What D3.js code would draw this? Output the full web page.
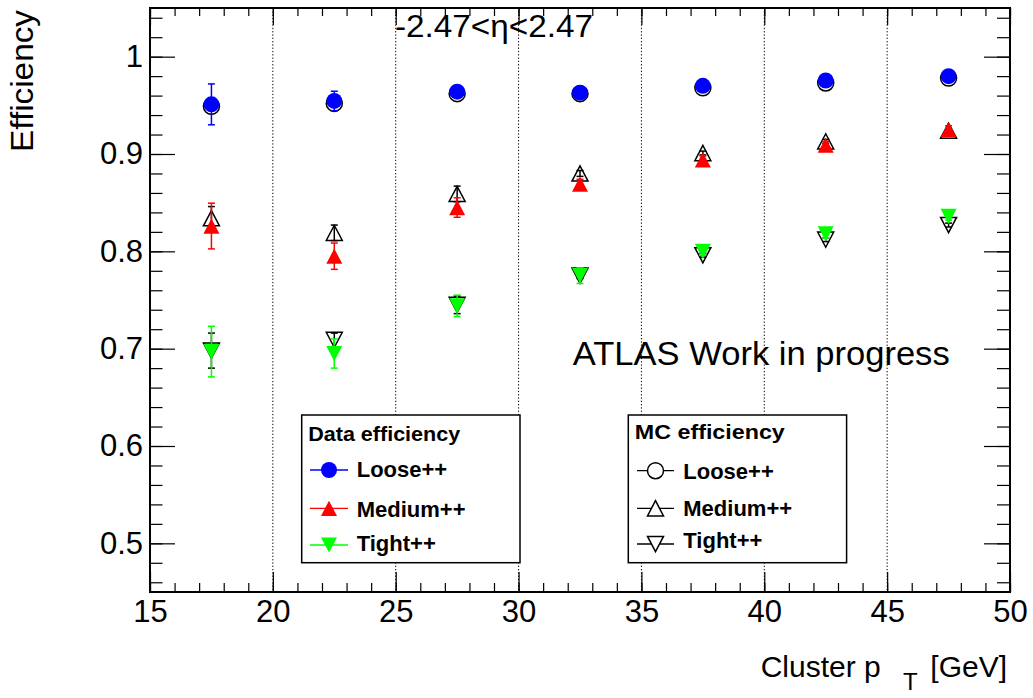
<!DOCTYPE html>
<html><head><meta charset="utf-8">
<script src="https://cdn.jsdelivr.net/npm/d3@7"></script>
<style>body{margin:0;background:#fff}svg{display:block}text{font-family:"Liberation Sans",Arial,Helvetica,sans-serif}</style>
</head><body><svg id="c" width="1033" height="698"></svg>
<script>
// ---- data ----
const binCenters = [17.5, 22.5, 27.5, 32.5, 37.5, 42.5, 47.5];
const xTickLabels = [15, 20, 25, 30, 35, 40, 45, 50];
const yTickLabels = [0.5, 0.6, 0.7, 0.8, 0.9, 1];
const gridX = [20, 25, 30, 35, 40, 45];

const dataLoose      = [0.951, 0.9545, 0.964, 0.963, 0.970, 0.9755, 0.980];
const dataLooseErr   = [0.021, 0.010, 0.003, 0.003, 0.002, 0.002, 0.002];
const dataMedium     = [0.826, 0.795, 0.845, 0.869, 0.894, 0.909, 0.925];
const dataMediumErr  = [0.0235, 0.0135, 0.010, 0.005, 0.004, 0.004, 0.004];
const dataTight      = [0.697, 0.695, 0.744, 0.775, 0.800, 0.818, 0.836];
const dataTightErr   = [0.026, 0.015, 0.011, 0.008, 0.004, 0.004, 0.004];

const mcLoose        = [0.949, 0.952, 0.962, 0.962, 0.968, 0.973, 0.978];
const mcLooseErr     = [0.004, 0.003, 0.002, 0.002, 0.002, 0.002, 0.002];
const mcMedium       = [0.834, 0.819, 0.859, 0.880, 0.901, 0.913, 0.924];
const mcMediumErr    = [0.012, 0.008, 0.008, 0.003, 0.002, 0.002, 0.002];
const mcTight        = [0.698, 0.709, 0.745, 0.775, 0.796, 0.812, 0.827];
const mcTightErr     = [0.018, 0.007, 0.009, 0.003, 0.002, 0.002, 0.002];

const seriesNames = ["Loose++", "Medium++", "Tight++"];

// ---- layout ----
const svg = d3.select("#c");
const L = 150, R = 1010, T = 8, B = 592;
const x = d3.scaleLinear().domain([15, 50]).range([L, R]);
const y = d3.scaleLinear().domain([0.45, 1.05]).range([B, T]);

svg.append("rect").attr("width",1033).attr("height",698).attr("fill","#fff");

// grid (dotted verticals)
svg.append("g").selectAll("line").data(gridX).join("line")
  .attr("x1", d => x(d)).attr("x2", d => x(d)).attr("y1", T).attr("y2", B)
  .attr("stroke", "#000").attr("stroke-width", 1).attr("stroke-dasharray", "1.3,2");

// axes
function styleAxis(g, fs) {
  g.select(".domain").remove();
  g.selectAll(".tick line").attr("stroke", "#000").attr("stroke-width", 1.2);
  g.selectAll("text").attr("font-size", fs).attr("fill", "#000")
    .attr("font-family", '"Liberation Sans",Arial,Helvetica,sans-serif');
}
const xMinor = d3.range(15, 50.01, 1);
const yMinor = d3.range(0.46, 1.05, 0.02);

svg.append("g").attr("transform", `translate(0,${B})`)
  .call(d3.axisBottom(x).tickValues(xMinor).tickSize(-9).tickFormat(""))
  .call(g => styleAxis(g, 0));
svg.append("g").attr("transform", `translate(0,${B})`)
  .call(d3.axisBottom(x).tickValues(xTickLabels).tickSize(-20).tickPadding(8).tickFormat(d => d))
  .call(g => styleAxis(g, 31));
svg.append("g").attr("transform", `translate(0,${T})`)
  .call(d3.axisTop(x).tickValues(xMinor).tickSize(-8).tickFormat(""))
  .call(g => styleAxis(g, 0));
svg.append("g").attr("transform", `translate(0,${T})`)
  .call(d3.axisTop(x).tickValues(xTickLabels).tickSize(-17).tickFormat(""))
  .call(g => styleAxis(g, 0));
svg.append("g").attr("transform", `translate(${L},0)`)
  .call(d3.axisLeft(y).tickValues(yMinor).tickSize(-12.5).tickFormat(""))
  .call(g => styleAxis(g, 0));
svg.append("g").attr("transform", `translate(${L},0)`)
  .call(d3.axisLeft(y).tickValues(yTickLabels).tickSize(-25).tickPadding(7).tickFormat(d => d))
  .call(g => styleAxis(g, 31));
svg.append("g").attr("transform", `translate(${R},0)`)
  .call(d3.axisRight(y).tickValues(yMinor).tickSize(-13).tickFormat(""))
  .call(g => styleAxis(g, 0));
svg.append("g").attr("transform", `translate(${R},0)`)
  .call(d3.axisRight(y).tickValues(yTickLabels).tickSize(-26).tickFormat(""))
  .call(g => styleAxis(g, 0));

// frame
svg.append("rect").attr("x", L).attr("y", T).attr("width", R - L).attr("height", B - T)
  .attr("fill", "none").attr("stroke", "#000").attr("stroke-width", 2);

// markers
function markerPath(shape, s) {
  if (shape === "circle") return d3.symbol().type(d3.symbolCircle).size(Math.PI * s * s)();
  const w = s, h = s * 0.95;
  if (shape === "up") return `M${-w},${h}L${w},${h}L0,${-h}Z`;
  return `M${-w},${-h}L${w},${-h}L0,${h}Z`;
}
function drawSeries(vals, errs, color, shape, filled) {
  const g = svg.append("g");
  const pts = binCenters.map((c, i) => ({ c, v: vals[i], e: errs[i] }));
  g.selectAll("line.bar").data(pts).join("line")
    .attr("x1", d => x(d.c)).attr("x2", d => x(d.c))
    .attr("y1", d => y(d.v - d.e)).attr("y2", d => y(d.v + d.e))
    .attr("stroke", color).attr("stroke-width", 1.5);
  ["lo", "hi"].forEach(k => {
    g.selectAll("line.cap" + k).data(pts).join("line")
      .attr("x1", d => x(d.c) - 3.5).attr("x2", d => x(d.c) + 3.5)
      .attr("y1", d => y(k === "lo" ? d.v - d.e : d.v + d.e))
      .attr("y2", d => y(k === "lo" ? d.v - d.e : d.v + d.e))
      .attr("stroke", color).attr("stroke-width", 1.5);
  });
  g.selectAll("path").data(pts).join("path")
    .attr("transform", d => `translate(${x(d.c)},${y(d.v)})`)
    .attr("d", markerPath(shape, 8))
    .attr("fill", filled ? color : "none")
    .attr("stroke", filled ? "none" : "#000")
    .attr("stroke-width", 1.5);
}
drawSeries(mcLoose, mcLooseErr, "#000", "circle", false);
drawSeries(mcMedium, mcMediumErr, "#000", "up", false);
drawSeries(mcTight, mcTightErr, "#000", "down", false);
drawSeries(dataLoose, dataLooseErr, "#0000ff", "circle", true);
drawSeries(dataMedium, dataMediumErr, "#ff0000", "up", true);
drawSeries(dataTight, dataTightErr, "#00ff00", "down", true);

// texts
svg.append("text").attr("x", 395).attr("y", 37).attr("font-size", 32)
  .attr("textLength", 198).attr("lengthAdjust", "spacingAndGlyphs").text("-2.47<η<2.47");
svg.append("text").attr("x", 572.7).attr("y", 365).attr("font-size", 32.5)
  .attr("textLength", 377).attr("lengthAdjust", "spacingAndGlyphs").text("ATLAS Work in progress");
svg.append("text").attr("transform", "translate(33,10) rotate(-90)").attr("text-anchor", "end")
  .attr("font-size", 31).attr("textLength", 142).attr("lengthAdjust", "spacingAndGlyphs").text("Efficiency");
svg.append("text").attr("x", 760.7).attr("y", 677).attr("font-size", 30).text("Cluster p");
svg.append("text").attr("x", 903).attr("y", 690).attr("font-size", 24).text("T");
svg.append("text").attr("x", 1007).attr("y", 677).attr("font-size", 30).attr("text-anchor", "end").text("[GeV]");

// legends
function legend(bx, title, titleY, titleW, lineX1, lineX2, markY, textX, textY, colors, filled) {
  const g = svg.append("g");
  g.append("rect").attr("x", bx).attr("y", 415).attr("width", 218.3).attr("height", 147.7)
    .attr("fill", "#fff").attr("stroke", "#000").attr("stroke-width", 1.5);
  g.append("text").attr("x", bx + 6.5).attr("y", titleY).attr("font-size", 21).attr("font-weight", "bold")
    .attr("textLength", titleW).attr("lengthAdjust", "spacingAndGlyphs").text(title);
  const shapes = ["circle", "up", "down"];
  seriesNames.forEach((n, i) => {
    const mx = (lineX1 + lineX2) / 2;
    g.append("line").attr("x1", lineX1).attr("x2", lineX2).attr("y1", markY[i]).attr("y2", markY[i])
      .attr("stroke", colors[i]).attr("stroke-width", 1.3);
    g.append("path").attr("transform", `translate(${mx},${markY[i]})`).attr("d", markerPath(shapes[i], 8))
      .attr("fill", filled ? colors[i] : "#fff").attr("stroke", filled ? "none" : "#000").attr("stroke-width", 1.5);
    g.append("text").attr("x", textX).attr("y", textY[i]).attr("font-size", 22).attr("font-weight", "bold").text(n);
  });
}
legend(301.7, "Data efficiency", 441, 152, 310, 348, [470, 508.3, 545], 356.7, [477.3, 516.7, 551], ["#0000ff", "#ff0000", "#00ff00"], true);
legend(628.3, "MC efficiency", 439.3, 150, 637, 674, [470.7, 508.3, 544], 683.3, [479, 515.7, 548.3], ["#000", "#000", "#000"], false);
</script></body></html>
